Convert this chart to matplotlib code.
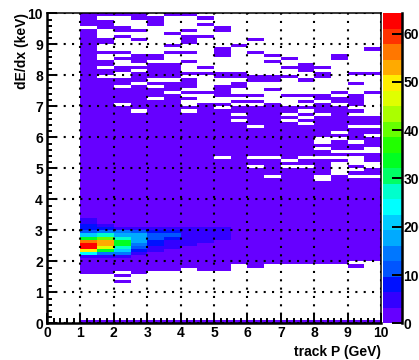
import matplotlib
matplotlib.use("Agg")
import matplotlib.pyplot as plt
from matplotlib.colors import ListedColormap, BoundaryNorm
from matplotlib.ticker import MultipleLocator
import numpy as np

plt.rcParams['font.family'] = ['Liberation Sans', 'DejaVu Sans']
plt.rcParams['font.weight'] = 'bold'

# dE/dx ranges that stay empty in each track P column
gaps_10 = [(9.5, 9.6)]
gaps_15 = [(9.8, 9.9), (9.2, 9.5), (8.8, 9.0), (8.5, 8.7), (8.2, 8.3), (7.9, 8.0)]
gaps_20 = [(9.6, 9.9), (9.3, 9.4), (8.8, 9.2), (8.6, 8.7), (8.3, 8.5), (7.9, 8.1), (7.6, 7.7), (7.0, 7.1),
           (1.6, 1.7), (1.4, 1.5)]
gaps_25 = [(9.5, 9.8), (9.2, 9.4), (8.7, 9.1), (8.3, 8.4), (8.1, 8.2), (7.7, 7.8), (6.8, 6.9)]
gaps_30 = [(9.9, 10), (8.7, 9.6), (8.4, 8.5), (7.8, 7.9), (7.6, 7.7), (7.2, 7.3)]
gaps_35 = [(9.4, 9.9), (9.0, 9.3), (8.8, 8.9), (8.4, 8.7), (7.8, 7.9), (7.4, 7.5)]
gaps_40 = [(9.5, 9.9), (9.3, 9.4), (8.8, 9.0), (8.5, 8.7), (8.1, 8.4), (7.9, 8.0), (7.5, 7.6), (7.3, 7.4),
           (7.0, 7.2), (6.8, 6.9)]
gaps_45 = [(9.9, 10), (9.7, 9.8), (9.3, 9.6), (8.3, 9.2), (8.1, 8.2), (7.5, 8.0), (7.1, 7.4)]
gaps_50 = [(9.6, 10), (8.9, 9.4), (8.1, 8.6), (7.7, 7.9), (7.1, 7.3), (6.9, 7.0), (5.3, 5.4)]
gaps_55 = [(9.0, 10), (8.1, 8.9), (7.8, 7.9), (7.4, 7.6), (7.2, 7.3), (7.0, 7.1), (6.7, 6.8), (6.5, 6.6)]
gaps_60 = [(9.2, 10), (8.8, 9.1), (8.0, 8.7), (7.4, 7.8), (7.2, 7.3), (7.0, 7.1), (6.3, 6.4), (5.3, 5.4), (5.0, 5.1)]
gaps_65 = [(8.7, 10), (8.5, 8.6), (8.0, 8.4), (7.6, 7.8), (7.1, 7.5), (5.3, 5.4), (4.7, 4.8)]
gaps_70 = [(8.6, 10), (8.3, 8.5), (8.0, 8.2), (7.4, 7.9), (7.0, 7.3), (6.7, 6.8), (6.5, 6.6), (5.2, 5.3), (5.0, 5.1)]
gaps_75 = [(8.4, 10), (7.9, 8.1), (7.4, 7.8), (7.2, 7.3), (7.0, 7.1), (6.8, 6.9), (6.6, 6.7), (6.4, 6.5),
           (5.3, 5.4), (5.0, 5.1)]
gaps_80 = [(8.3, 10), (8.1, 8.2), (7.4, 7.9), (7.1, 7.2), (6.7, 6.8), (5.8, 6.0), (5.6, 5.7), (5.3, 5.4), (4.6, 4.8)]
gaps_85 = [(8.7, 10), (7.5, 8.5), (7.3, 7.4), (7.0, 7.1), (6.1, 6.2), (5.9, 6.0), (5.5, 5.6), (5.3, 5.4), (4.8, 5.2)]
gaps_90 = [(8.1, 10), (7.8, 8.0), (7.4, 7.7), (6.9, 7.0), (6.7, 6.8), (6.3, 6.4), (5.8, 5.9), (5.5, 5.6),
           (5.1, 5.4), (4.9, 5.0), (4.7, 4.8), (1.9, 2.0)]
gaps_95 = [(8.9, 10), (8.1, 8.8), (7.5, 8.0), (6.7, 7.4), (6.3, 6.4), (6.0, 6.1), (5.5, 5.7), (5.0, 5.2), (4.7, 4.8)]
all_gaps = [gaps_10, gaps_15, gaps_20, gaps_25, gaps_30, gaps_35, gaps_40, gaps_45, gaps_50,
            gaps_55, gaps_60, gaps_65, gaps_70, gaps_75, gaps_80, gaps_85, gaps_90, gaps_95]

# lowest filled dE/dx per column, 1.0 to 9.5 GeV
floors = [1.6, 1.6, 1.3, 1.6, 1.7, 1.7, 1.8, 1.7, 1.7, 1.9, 1.8, 1.9, 1.9, 1.9, 1.9, 1.9, 1.8, 2.0]

# the band around dE/dx 2.5, counts per column starting at 1.0 GeV
peak_33 = [48]
peak_32 = [48]
peak_31 = [80, 48]
peak_30 = [80, 80, 48, 48, 48, 48, 48, 48, 48]
peak_29 = [112, 144, 144, 112, 80, 80, 48, 48, 48]
peak_28 = [208, 272, 176, 176, 112, 112, 48, 48, 48]
peak_27 = [336, 400, 272, 176, 112, 80, 48, 48, 48]
peak_26 = [560, 528, 336, 176, 80, 48, 48, 48]
peak_25 = [624, 528, 336, 144, 80, 48, 48]
peak_24 = [624, 464, 272, 112, 48, 48]
peak_23 = [496, 336, 208, 80, 48]
peak_22 = [240, 144, 144, 48]
peak_21 = [48, 48, 48]
peak_bins = [2.1, 2.2, 2.3, 2.4, 2.5, 2.6, 2.7, 2.8, 2.9, 3.0, 3.1, 3.2, 3.3]
peak_rows = [peak_21, peak_22, peak_23, peak_24, peak_25, peak_26, peak_27, peak_28, peak_29,
             peak_30, peak_31, peak_32, peak_33]

band_colors = ['#6600ff', '#3300ff', '#0011ff', '#0055ff', '#0077ff', '#00aaff', '#00ccff', '#00ffff',
               '#00ffcc', '#00ff66', '#00ff22', '#22ff00', '#66ff00', '#aaff00', '#e0ff00', '#ffee00',
               '#ffaa00', '#ff7700', '#ff3300', '#ff0000']
z_top = 642

x_edges = np.arange(0, 20.5) * 0.5
y_edges = np.arange(0, 100.5) * 0.1
counts = np.zeros((100, 20))
for c in range(18):
    lo = int(round(floors[c] * 10))
    counts[lo:, c + 2] = 5
    counts[0, c + 2] = 5
    for a, b in all_gaps[c]:
        counts[int(round(a * 10)):int(round(b * 10)), c + 2] = 0
for b, row in zip(peak_bins, peak_rows):
    for c, v in enumerate(row):
        counts[int(round(b * 10)), c + 2] = v

levels = np.linspace(0, z_top, 21)
cmap = ListedColormap(band_colors)
norm = BoundaryNorm(levels, 20)

W, H = 419, 360
fig = plt.figure(figsize=(W / 100, H / 100), dpi=100)
ax = fig.add_axes([47 / W, 1 - 323.3 / H, 334 / W, 310 / H])
ax.pcolormesh(x_edges, y_edges, np.ma.masked_equal(counts, 0), cmap=cmap, norm=norm, zorder=1)
ax.set_xlim(0, 10)
ax.set_ylim(0, 10)

ax.xaxis.set_major_locator(MultipleLocator(1))
ax.yaxis.set_major_locator(MultipleLocator(1))
ax.xaxis.set_minor_locator(MultipleLocator(0.2))
ax.yaxis.set_minor_locator(MultipleLocator(0.2))
ax.tick_params(which='major', direction='in', length=7, width=1.4, labelsize=10, pad=3, zorder=5)
ax.tick_params(which='minor', direction='in', length=3.6, width=1.4, zorder=5)
ax.tick_params(axis='x', pad=2)
ax.grid(True, which='major', color='black', linewidth=1.5, linestyle=(0, (1, 3)), zorder=4)
ax.set_axisbelow(False)
ax.spines['left'].set_linewidth(1.8)
ax.spines['bottom'].set_linewidth(1.8)
ax.spines['top'].set_linewidth(1.1)
ax.spines['right'].set_linewidth(1.1)
ax.set_xlabel("track P (GeV)", fontsize=10, fontweight='bold', loc='right', labelpad=3.5)
ax.set_ylabel("dE/dx (keV)", fontsize=10, fontweight='bold', loc='top', labelpad=-1)

cax = fig.add_axes([383 / W, 1 - 323.3 / H, 18.5 / W, 310 / H])
cax.pcolormesh([0, 1], levels, (levels[:-1] + levels[1:]).reshape(-1, 1) / 2, cmap=cmap, norm=norm)
cax.set_xlim(0, 1)
cax.set_ylim(0, z_top)
cax.set_xticks([])
cax.yaxis.tick_right()
cax.set_yticks([0, 100, 200, 300, 400, 500, 600])
cax.tick_params(axis='y', direction='in', length=7, width=1.4, labelsize=10, pad=1.5)
for s in ['left', 'top', 'bottom']:
    cax.spines[s].set_visible(False)
cax.spines['right'].set_linewidth(1.8)

plt.savefig("out.png", dpi=100)
